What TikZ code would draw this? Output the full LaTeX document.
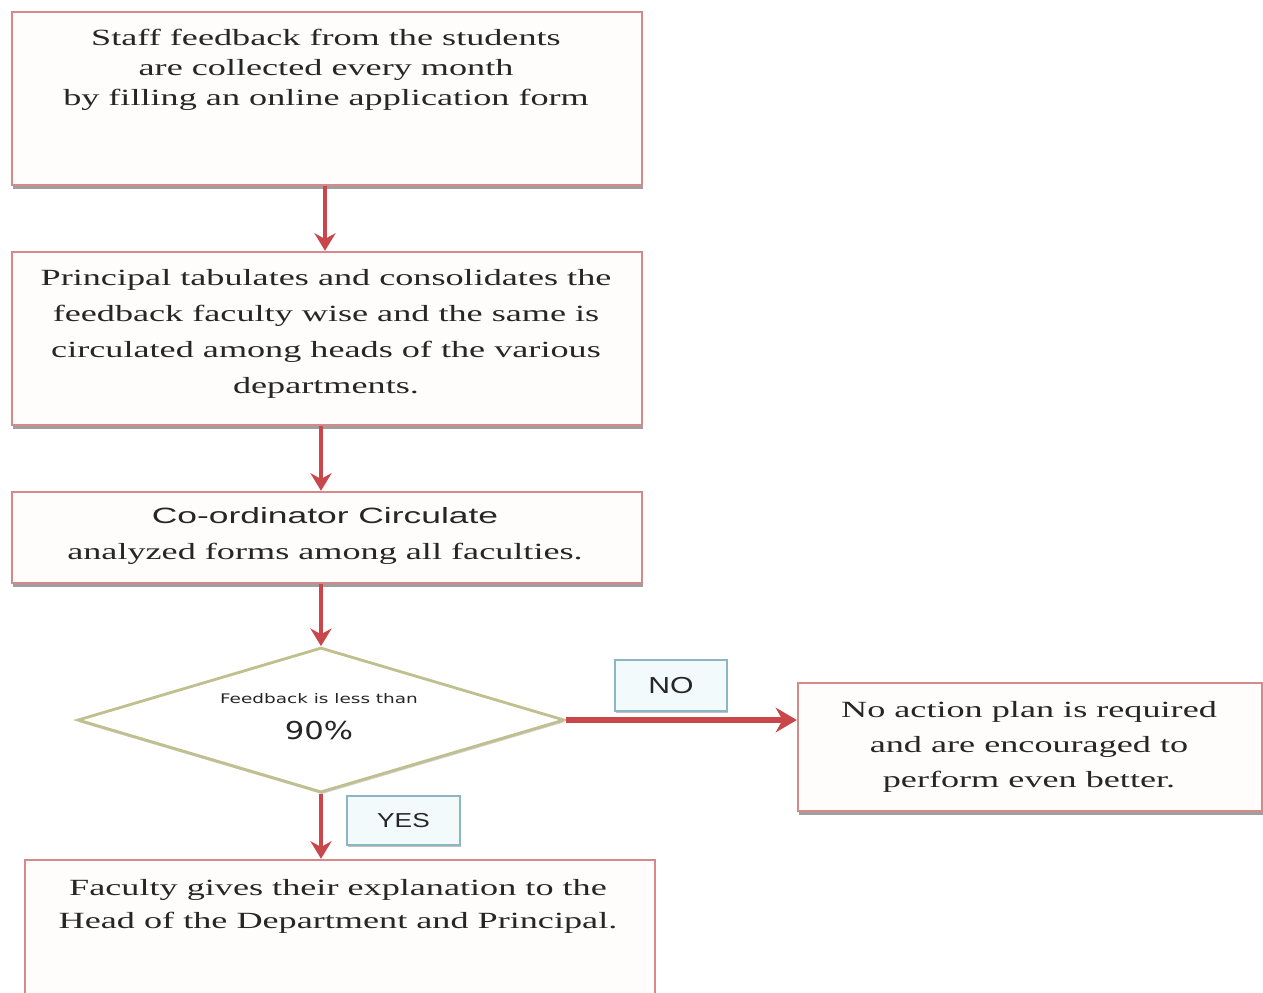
\documentclass[tikz,border=0pt]{standalone}
\usepackage{fontspec}
\setmainfont{Liberation Serif}[FakeStretch=1.56]
\newfontfamily\labelsans{Liberation Sans}[FakeStretch=1.3]
\newfontfamily\headsans{Liberation Sans}[FakeStretch=1.6]
\newfontfamily\roundsans{DejaVu Sans}[FakeStretch=1.25]
\newfontfamily\smallsans{DejaVu Sans}[FakeStretch=1.4]
\usetikzlibrary{shapes.geometric,arrows.meta,shadows}

\definecolor{boxline}{HTML}{D48A88}
\definecolor{boxfill}{HTML}{FFFCFC}
\definecolor{arrowred}{HTML}{C9464A}
\definecolor{diamline}{HTML}{BFC08E}
\definecolor{tagline}{HTML}{8DB6C4}
\definecolor{tagfill}{HTML}{F3FAFC}
\definecolor{inktext}{HTML}{262626}

\tikzset{
  stepbox/.style={draw=boxline, line width=1.4pt, fill=boxfill, inner sep=0pt,
    drop shadow={shadow xshift=0.6pt, shadow yshift=-2pt, fill=black!50, opacity=0.75}},
  steptext/.style={align=center, text=inktext, font=\fontsize{13.2}{17}\selectfont},
  decision/.style={diamond, draw=diamline, line width=1.6pt, fill=white, inner sep=0pt,
    drop shadow={shadow xshift=0.5pt, shadow yshift=-1.2pt, fill=black!30, opacity=0.6}},
  tagbox/.style={draw=tagline, line width=1.2pt, fill=tagfill, inner sep=0pt,
    text=inktext, font=\labelsans\fontsize{11.5}{13}\selectfont,
    drop shadow={shadow xshift=0.5pt, shadow yshift=-1.4pt, fill=black!40, opacity=0.6}},
  flow/.style={draw=arrowred, line width=2.4pt, -{Stealth[length=10pt, width=12pt]}},
  flowwide/.style={draw=arrowred, line width=3.2pt, -{Stealth[length=12pt, width=14pt]}},
}

\begin{document}
\begin{tikzpicture}[x=0.02cm, y=-0.02cm]
\useasboundingbox[fill=white] (0,0) rectangle (1263,992);
\clip (0,0) rectangle (1263,992);

% process steps
\node[stepbox, minimum width=12.6cm, minimum height=3.46cm] (b1) at (327,98.5) {};
\node[steptext, font=\fontsize{13.2}{17}\selectfont] (t1) at (326,70)
  {Staff feedback from the students\\are collected every month\\by filling an online application form};

\node[stepbox, minimum width=12.6cm, minimum height=3.46cm] (b2) at (327,338.5) {};
\node[steptext, font=\fontsize{13.2}{20.4}\selectfont] (t2) at (326,334)
  {Principal tabulates and consolidates the\\feedback faculty wise and the same is\\circulated among heads of the various\\departments.};

\node[stepbox, minimum width=12.6cm, minimum height=1.82cm] (b3) at (327,537.5) {};
\node[steptext, font=\fontsize{13.2}{20.4}\selectfont] (t3) at (325,536)
  {{\headsans\fontsize{12.6}{14}\selectfont Co-ordinator Circulate}\\analyzed forms among all faculties.};

% decision
\node[decision, minimum width=9.74cm, minimum height=2.9cm] (d) at (321,720) {};
\node[align=center, text=inktext] (dt) at (319,717)
  {{\smallsans\fontsize{7.5}{9}\selectfont Feedback is less than}\\[8.5pt]
   {\roundsans\fontsize{14}{15}\selectfont 90\%}};

% outcomes
\node[stepbox, minimum width=9.28cm, minimum height=2.56cm] (r) at (1030,747) {};
\node[steptext, font=\fontsize{13.2}{20}\selectfont] (tr) at (1029,747)
  {No action plan is required\\and are encouraged to\\perform even better.};

\node[stepbox, minimum width=12.6cm, minimum height=3.2cm] (b5) at (340,940) {};
\node[steptext, font=\fontsize{13.2}{19}\selectfont] (t5) at (338,906.5)
  {Faculty gives their explanation to the\\Head of the Department and Principal.};

% branch tags
\node[tagbox, font=\labelsans\fontsize{13.2}{14}\selectfont,
      minimum width=2.24cm, minimum height=1.02cm] (no) at (671,685.5) {NO};
\node[tagbox, minimum width=2.26cm, minimum height=0.98cm] (yes) at (403.5,820.5) {YES};

% connectors
\draw[flow] (b1.south -| 325,0) -- (b2.north -| 325,0);
\draw[flow] (b2.south -| d.north) -- (b3.north -| d.north);
\draw[flow] (b3.south -| d.north) -- (d.north);
\draw[flowwide] (d.east) -- (d.east -| r.west);
\draw[flow] (d.south) -- (b5.north -| d.south);
\end{tikzpicture}
\end{document}
